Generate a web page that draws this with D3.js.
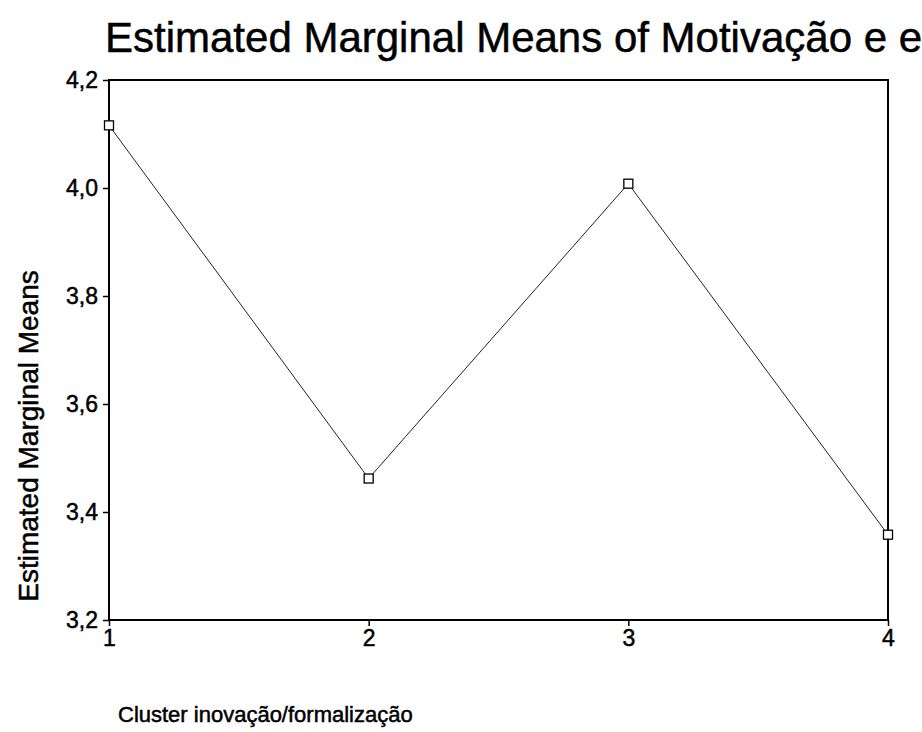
<!DOCTYPE html>
<html>
<head>
<meta charset="utf-8">
<script src="https://cdn.jsdelivr.net/npm/d3@7"></script>
<style>
  body { margin: 0; background: #fff; }
  text { font-family: "Liberation Sans", Arial, sans-serif; fill: #000; stroke: #000; stroke-width: 0.5px; }
</style>
</head>
<body>
<div id="chart-area"></div>
<script>
// data
const clusters = [1, 2, 3, 4];
const means = [4.116, 3.462, 4.008, 3.358];
const yTicks = [3.2, 3.4, 3.6, 3.8, 4.0, 4.2];

const W = 922, H = 732;
const margin = {left: 109, right: 34, top: 80, bottom: 112};
const width = W - margin.left - margin.right;
const height = H - margin.top - margin.bottom;

const svg = d3.select('#chart-area')
  .append('svg')
  .attr('width', W)
  .attr('height', H);

// title
svg.append('text')
  .attr('x', 105)
  .attr('y', 52)
  .attr('font-size', '42px')
  .attr('stroke-width', 0.9)
  .text('Estimated Marginal Means of Motivação e e');

const g = svg.append('g')
  .attr('transform', `translate(${margin.left}, ${margin.top})`);

const x = d3.scaleLinear().domain([1, 4]).range([0, width]);
const y = d3.scaleLinear().domain([3.2, 4.2]).range([height, 0]);

const fmt = d => d3.format('.1f')(d).replace('.', ',');

// Y axis
const yAxis = g.append('g')
  .call(d3.axisLeft(y).tickValues(yTicks).tickFormat(fmt).tickSize(6).tickPadding(5));
yAxis.selectAll('text').attr('font-size', '23px');

// X axis
const xAxis = g.append('g')
  .attr('transform', `translate(0, ${height})`)
  .call(d3.axisBottom(x).tickValues(clusters).tickFormat(d3.format('d')).tickSize(6).tickPadding(4));
xAxis.selectAll('text').attr('font-size', '23px');

g.selectAll('.domain').remove();
g.selectAll('.tick line').attr('stroke', '#000').attr('stroke-width', 1.5);

// frame
g.append('rect')
  .attr('x', 0).attr('y', 0)
  .attr('width', width).attr('height', height)
  .attr('fill', 'none')
  .attr('stroke', '#000')
  .attr('stroke-width', 2);

// axis titles
svg.append('text')
  .attr('transform', `translate(38, ${436}) rotate(-90)`)
  .attr('text-anchor', 'middle')
  .attr('font-size', '28px')
  .attr('stroke-width', 0.7)
  .text('Estimated Marginal Means');

svg.append('text')
  .attr('x', 118)
  .attr('y', 722)
  .attr('font-size', '22px')
  .text('Cluster inovação/formalização');

// line
const pts = clusters.map((c, i) => ({c, v: means[i]}));
g.append('path')
  .datum(pts)
  .attr('fill', 'none')
  .attr('stroke', '#222')
  .attr('stroke-width', 1)
  .attr('d', d3.line().x(d => x(d.c)).y(d => y(d.v)));

// markers
g.selectAll('rect.pt')
  .data(pts)
  .enter()
  .append('rect')
  .attr('class', 'pt')
  .attr('x', d => x(d.c) - 4.5)
  .attr('y', d => y(d.v) - 4.5)
  .attr('width', 9)
  .attr('height', 9)
  .attr('fill', '#fff')
  .attr('stroke', '#000')
  .attr('stroke-width', 1.3);
</script>
</body>
</html>
